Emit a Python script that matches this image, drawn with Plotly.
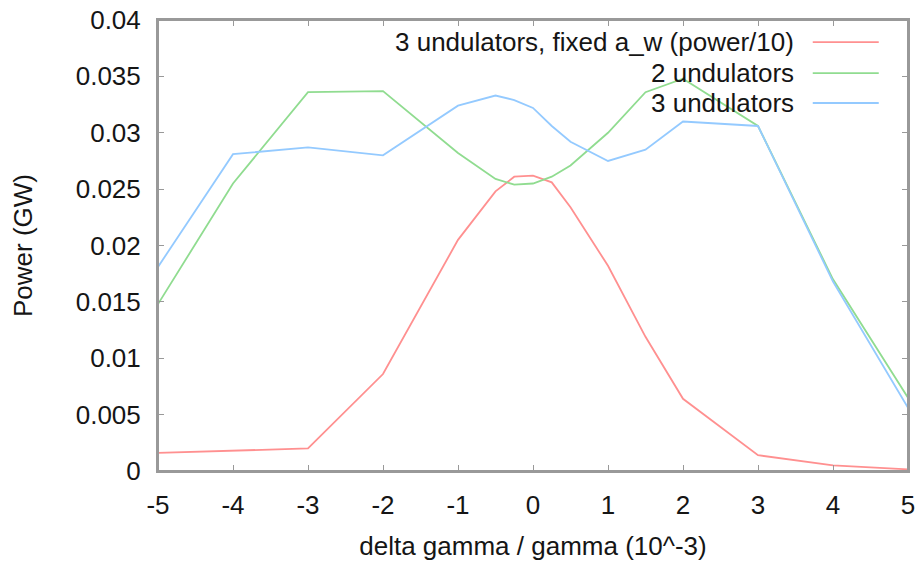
import plotly.graph_objects as go

# ---- data ----
x_vals = [-5, -4, -3, -2, -1, -0.5, -0.25, 0, 0.25, 0.5, 1, 1.5, 2, 3, 4, 5]

fixed_aw_power10 = [0.0016, 0.0018, 0.0020, 0.0086, 0.0205, 0.0248, 0.0261, 0.0262,
                    0.0256, 0.0234, 0.0182, 0.0119, 0.0064, 0.0014, 0.0005, 0.00015]
two_undulators = [0.0148, 0.0255, 0.0336, 0.0337, 0.0282, 0.0259, 0.0254, 0.0255,
                  0.0261, 0.0271, 0.0300, 0.0336, 0.0348, 0.0306, 0.0170, 0.0065]
three_undulators = [0.0181, 0.0281, 0.0287, 0.0280, 0.0324, 0.0333, 0.0329, 0.0322,
                    0.0306, 0.0292, 0.0275, 0.0285, 0.0310, 0.0306, 0.0168, 0.0056]

series_names = ["3 undulators, fixed a_w (power/10)", "2 undulators", "3 undulators"]
series_colors = ["#ff9090", "#90dc90", "#94caff"]

x_ticks = [-5, -4, -3, -2, -1, 0, 1, 2, 3, 4, 5]
x_tick_text = ["-5", "-4", "-3", "-2", "-1", "0", "1", "2", "3", "4", "5"]
y_ticks = [0, 0.005, 0.01, 0.015, 0.02, 0.025, 0.03, 0.035, 0.04]
y_tick_text = ["0", "0.005", "0.01", "0.015", "0.02", "0.025", "0.03", "0.035", "0.04"]

FONT = "Liberation Sans, Arial, Helvetica, sans-serif"
TXT = "#151515"
FRAME = "#999999"
FS = 26

fig = go.Figure()
for name, ys, col in zip(series_names,
                         [fixed_aw_power10, two_undulators, three_undulators],
                         series_colors):
    fig.add_trace(go.Scatter(x=x_vals, y=ys, mode="lines", name=name,
                             line=dict(color=col, width=1.8), showlegend=False))

# gnuplot-style key: right-aligned text followed by a line sample
legend_y = [0.951, 0.882, 0.816]
for name, col, ly in zip(series_names, series_colors, legend_y):
    fig.add_annotation(x=0.851, y=ly, xref="paper", yref="paper", text=name,
                       showarrow=False, xanchor="right", yanchor="middle",
                       font=dict(family=FONT, size=FS, color=TXT))
    fig.add_shape(type="line", xref="paper", yref="paper",
                  x0=0.873, x1=0.961, y0=ly, y1=ly,
                  line=dict(color=col, width=1.8))

# plot border
fig.add_shape(type="rect", xref="paper", yref="paper", x0=0, x1=1, y0=0, y1=1,
              line=dict(color=FRAME, width=2), layer="above")

axis_common = dict(showline=True, linecolor=FRAME, linewidth=2, mirror="allticks",
                   ticks="inside", ticklen=6, tickcolor=FRAME, tickwidth=1.2,
                   showgrid=False, zeroline=False, automargin=False,
                   ticklabeloverflow="allow",
                   tickfont=dict(family=FONT, size=FS, color=TXT))

fig.update_xaxes(range=[-5, 5], tickvals=x_ticks, ticktext=x_tick_text,
                 ticklabelstandoff=10,
                 title=dict(text="delta gamma / gamma (10^-3)", standoff=18,
                            font=dict(family=FONT, size=FS, color=TXT)),
                 **axis_common)
fig.update_yaxes(range=[0, 0.04], tickvals=y_ticks, ticktext=y_tick_text,
                 ticklabelstandoff=10,
                 title=dict(text="Power (GW)", standoff=36,
                            font=dict(family=FONT, size=FS, color=TXT)),
                 **axis_common)

fig.update_layout(width=923, height=569, plot_bgcolor="white", paper_bgcolor="white",
                  margin=dict(l=158, r=15, t=20, b=98))

# remove the default 8px page margin so the figure fills the window exactly
fig.write_html("out.html", config={"displayModeBar": False},
               post_script="document.body.style.margin='0';document.body.style.overflow='hidden';")
